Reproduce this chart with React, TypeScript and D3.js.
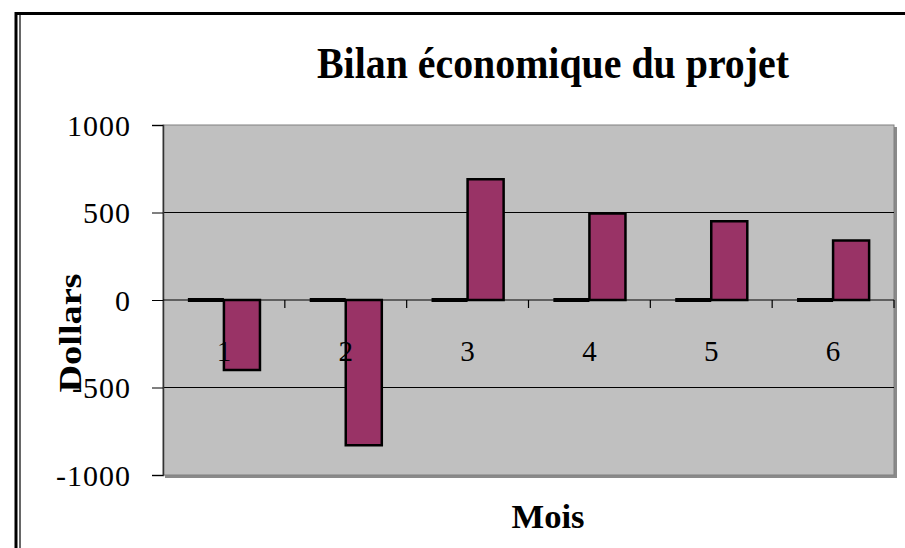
import React, { useEffect, useRef } from 'react';
import * as d3 from 'd3';

const months = ['1', '2', '3', '4', '5', '6'];
const seriesNames = ['Série 1', 'Série 2'];
const serie1 = [0, 0, 0, 0, 0, 0];
const serie2 = [-400, -830, 690, 495, 450, 340];
const yTicks = [-1000, -500, 0, 500, 1000];

const App = () => {
	const chartRef = useRef<SVGSVGElement>(null);

	useEffect(() => {
		if (!chartRef.current) return;
		const W = 905;
		const H = 548;
		const plot = { left: 163, right: 894, top: 125, bottom: 475 };
		const serif = '"Liberation Serif", "Times New Roman", serif';

		const svg = d3.select(chartRef.current);
		svg.selectAll('*').remove();

		svg.append('rect').attr('x', 0).attr('y', 0).attr('width', W).attr('height', H).attr('fill', '#fff');

		// outer frame (top + double left line)
		svg.append('path')
			.attr('d', `M16,${H} V13.5 H${W}`)
			.attr('fill', 'none')
			.attr('stroke', '#000')
			.attr('stroke-width', 3);
		svg.append('line')
			.attr('x1', 20).attr('x2', 20).attr('y1', 15).attr('y2', H)
			.attr('stroke', '#000').attr('stroke-width', 1.2);

		const x = d3.scaleBand<string>().domain(months).range([plot.left, plot.right]).paddingInner(0).paddingOuter(0);
		const xInner = d3.scaleBand<string>().domain(seriesNames).range([0, x.bandwidth()]).paddingInner(0).paddingOuter(0.69);
		const y = d3.scaleLinear().domain([-1000, 1000]).range([plot.bottom, plot.top]);

		// plot area with shadow
		svg.append('path')
			.attr('d', `M${plot.left + 2},${plot.bottom + 1.5} H${plot.right + 1.5} V${plot.top + 2}`)
			.attr('fill', 'none')
			.attr('stroke', '#8a8a8a')
			.attr('stroke-width', 3);
		svg.append('rect')
			.attr('x', plot.left)
			.attr('y', plot.top)
			.attr('width', plot.right - plot.left)
			.attr('height', plot.bottom - plot.top)
			.attr('fill', '#c0c0c0')
			.attr('stroke', '#808080')
			.attr('stroke-width', 1);

		// gridlines
		svg.append('g')
			.selectAll('line')
			.data(yTicks.filter(t => t !== 0 && Math.abs(t) !== 1000))
			.join('line')
			.attr('x1', plot.left)
			.attr('x2', plot.right)
			.attr('y1', d => y(d))
			.attr('y2', d => y(d))
			.attr('stroke', '#000')
			.attr('stroke-width', 1);

		// y axis
		const yAxis = svg.append('g')
			.attr('transform', `translate(${plot.left},0)`)
			.call(d3.axisLeft(y).tickValues(yTicks).tickSize(11).tickPadding(21).tickFormat(d => String(d)));
		yAxis.select('.domain').attr('stroke', '#333').attr('stroke-width', 1.5);
		yAxis.selectAll('.tick line').attr('stroke', '#000').attr('stroke-width', 1);
		yAxis.selectAll('.tick text')
			.attr('fill', '#000')
			.attr('dy', '0.34em')
			.style('font-family', serif)
			.style('font-size', '30px')
			.style('letter-spacing', '1px');

		// x axis line + boundary ticks
		svg.append('line')
			.attr('x1', plot.left).attr('x2', plot.right)
			.attr('y1', y(0)).attr('y2', y(0))
			.attr('stroke', '#000').attr('stroke-width', 1.2);

		svg.append('g')
			.selectAll('line')
			.data(months.slice(1).concat(['end']))
			.join('line')
			.attr('x1', d => d === 'end' ? plot.right : (x(d) as number))
			.attr('x2', d => d === 'end' ? plot.right : (x(d) as number))
			.attr('y1', y(0))
			.attr('y2', y(0) + 8)
			.attr('stroke', '#000')
			.attr('stroke-width', 1.2);

		// bars
		const groups = svg.append('g')
			.selectAll('g')
			.data(months)
			.join('g')
			.attr('transform', d => `translate(${x(d)},0)`);

		const barPath = (i: number, v: number) => {
			const x0 = xInner(seriesNames[i]) as number;
			const x1 = x0 + xInner.bandwidth();
			return `M${x0},${y(0)} H${x1} V${y(v)} H${x0} Z`;
		};

		groups.append('path')
			.attr('d', (d, i) => barPath(0, serie1[i]))
			.attr('fill', '#3366cc')
			.attr('stroke', '#000')
			.attr('stroke-width', 4);

		groups.append('path')
			.attr('d', (d, i) => barPath(1, serie2[i]))
			.attr('fill', '#993366')
			.attr('stroke', '#000')
			.attr('stroke-width', 2.5);

		// category labels drawn over the bars
		const xAxis = svg.append('g')
			.attr('transform', `translate(0,${y(0)})`)
			.call(d3.axisBottom(x).tickSize(0).tickPadding(40));
		xAxis.select('.domain').remove();
		xAxis.selectAll('.tick text')
			.attr('fill', '#000')
			.style('font-family', serif)
			.style('font-size', '29px');

		// titles
		svg.append('text')
			.attr('x', 553)
			.attr('y', 78)
			.attr('text-anchor', 'middle')
			.attr('textLength', 472)
			.attr('lengthAdjust', 'spacingAndGlyphs')
			.style('font-family', serif)
			.style('font-weight', 'bold')
			.style('font-size', '45px')
			.text('Bilan économique du projet');

		svg.append('text')
			.attr('x', 548)
			.attr('y', 528)
			.attr('text-anchor', 'middle')
			.attr('textLength', 73)
			.attr('lengthAdjust', 'spacingAndGlyphs')
			.style('font-family', serif)
			.style('font-weight', 'bold')
			.style('font-size', '33px')
			.text('Mois');

		svg.append('text')
			.attr('transform', 'translate(81,333) rotate(-90)')
			.attr('text-anchor', 'middle')
			.attr('textLength', 119)
			.attr('lengthAdjust', 'spacingAndGlyphs')
			.style('font-family', serif)
			.style('font-weight', 'bold')
			.style('font-size', '31px')
			.text('Dollars');
	}, []);

	return (
		<svg
			ref={chartRef}
			width={905}
			height={548}
			style={{ position: 'absolute', left: 0, top: 0, display: 'block' }}
		/>
	);
};

export default App;
